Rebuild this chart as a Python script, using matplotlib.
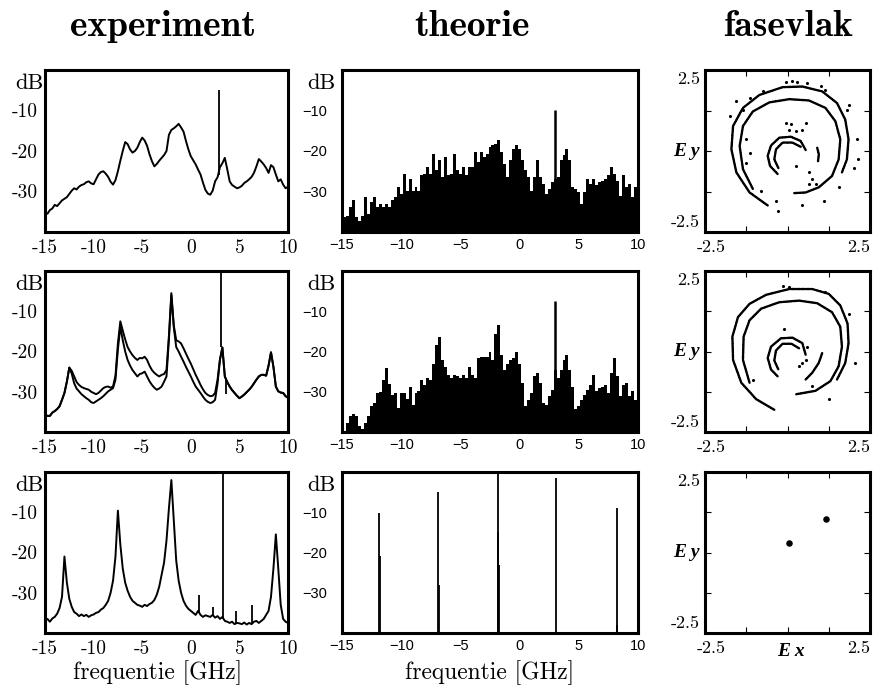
import numpy as np
import matplotlib.pyplot as plt

# ---- data (dB, 0.25 GHz steps from -15 to 10) ----
freq = np.arange(-15, 10.001, 0.25)

exp1 = [-35.0, -35.5, -34.6, -34.2,
        -33.3, -33.6, -32.9, -32.2,
        -31.8, -31.4, -30.6, -29.8,
        -29.2, -29.5, -28.8, -28.4,
        -28.2, -27.7, -27.5, -28.0,
        -28.2, -27.0, -25.8, -25.2,
        -25.0, -25.6, -26.4, -27.6,
        -28.3, -27.2, -25.0, -22.4,
        -20.0, -17.8, -18.3, -19.6,
        -20.4, -20.0, -19.2, -17.8,
        -16.7, -17.4, -18.7, -20.8,
        -22.5, -23.8, -23.2, -22.4,
        -21.7, -21.0, -20.0, -16.0,
        -14.8, -14.4, -13.9, -13.3,
        -14.2, -15.2, -17.5, -19.6,
        -21.3, -22.3, -23.3, -24.6,
        -25.8, -27.8, -29.6, -30.5,
        -30.8, -29.8, -27.5, -26.5,
        -24.0, -23.0, -21.7, -24.5,
        -27.5, -28.4, -28.8, -29.2,
        -29.0, -28.6, -27.9, -27.5,
        -27.0, -26.4, -25.4, -23.8,
        -22.0, -22.6, -23.3, -24.2,
        -25.4, -23.5, -24.0, -25.8,
        -27.5, -27.0, -28.3, -29.2,
        -28.8]

exp2_upper = [-35.7, -36.0, -36.0, -35.2,
              -34.8, -34.3, -33.6, -32.0,
              -30.3, -27.5, -24.0, -24.8,
              -26.2, -27.6, -28.3, -28.8,
              -29.1, -29.3, -29.5, -30.0,
              -30.3, -30.6, -30.3, -29.7,
              -29.1, -28.8, -28.7, -29.0,
              -28.7, -26.0, -18.0, -12.5,
              -14.8, -17.0, -18.9, -20.0,
              -20.9, -21.6, -22.1, -21.6,
              -21.7, -21.3, -22.1, -23.5,
              -24.6, -25.3, -25.8, -26.2,
              -25.8, -25.6, -24.6, -16.0,
              -5.5, -13.5, -17.2, -17.5,
              -18.0, -19.2, -20.5, -21.8,
              -23.0, -24.4, -25.8, -27.0,
              -28.3, -29.4, -30.3, -30.8,
              -31.1, -31.0, -30.3, -27.0,
              -22.0, -19.0, -26.2, -27.6,
              -28.7, -29.6, -30.3, -31.0,
              -31.6, -31.2, -30.7, -30.1,
              -29.5, -28.8, -27.9, -27.0,
              -26.2, -25.8, -25.8, -26.0,
              -23.5, -20.2, -23.8, -28.7,
              -29.9, -30.2, -30.3, -31.1,
              -31.5]

exp2_lower = [-35.7, -36.0, -36.0, -35.2,
              -34.8, -34.3, -33.6, -32.0,
              -30.3, -27.5, -24.0, -25.5,
              -27.9, -29.2, -29.9, -30.6,
              -31.1, -31.6, -32.0, -32.6,
              -32.8, -32.4, -32.0, -31.6,
              -31.1, -30.5, -29.9, -29.5,
              -29.1, -27.0, -19.5, -13.8,
              -17.2, -20.0, -22.1, -23.5,
              -24.6, -25.4, -26.2, -25.6,
              -25.4, -25.0, -26.2, -27.4,
              -28.3, -29.0, -29.5, -29.2,
              -28.7, -27.5, -26.2, -17.0,
              -6.0, -14.0, -18.9, -20.0,
              -21.3, -22.5, -23.8, -25.0,
              -26.2, -27.5, -28.7, -29.5,
              -30.3, -31.2, -32.0, -32.5,
              -32.8, -32.6, -32.0, -28.0,
              -22.0, -19.0, -26.2, -27.6,
              -28.7, -29.6, -30.3, -31.0,
              -31.6, -31.2, -30.7, -30.1,
              -29.5, -28.8, -27.9, -27.0,
              -26.2, -25.8, -25.8, -26.0,
              -23.5, -20.2, -23.8, -28.7,
              -29.9, -30.2, -30.3, -31.1,
              -31.5]

exp3 = [-37.0, -36.5, -37.2, -36.4,
        -36.0, -35.2, -33.8, -31.0,
        -21.0, -27.5, -31.5, -33.5,
        -34.8, -35.2, -35.8, -35.4,
        -35.8, -35.5, -36.0, -35.6,
        -35.4, -35.0, -34.8, -34.2,
        -33.8, -33.0, -32.0, -30.0,
        -27.0, -21.0, -9.6, -18.0,
        -24.0, -27.5, -29.5, -31.0,
        -32.0, -32.5, -33.0, -33.2,
        -33.5, -33.0, -33.3, -32.8,
        -32.5, -31.8, -30.5, -28.5,
        -25.5, -22.5, -17.0, -9.0,
        -2.0, -12.0, -22.0, -27.0,
        -30.0, -32.0, -33.2, -34.0,
        -34.5, -35.0, -35.5, -34.5,
        -35.5, -36.0, -35.6, -35.8,
        -36.0, -35.5, -36.2, -35.8,
        -36.5, -36.0, -37.0, -37.2,
        -37.5, -37.2, -37.8, -37.5,
        -37.6, -37.8, -37.4, -37.9,
        -37.5, -37.8, -37.2, -37.0,
        -37.5, -37.0, -36.5, -35.5,
        -34.5, -31.0, -24.0, -15.5,
        -24.0, -33.0, -36.5, -37.2,
        -37.5]

# narrow spikes: frequency, foot, top
exp1_spike_f, exp1_spike_lo, exp1_spike_hi = [2.95], [-26.0], [-5.0]
exp2_spike_f, exp2_spike_lo, exp2_spike_hi = [3.1, 3.6], [-19.0, -26.5], [0.0, -30.5]
exp3_spike_f = [0.8, 2.3, 3.3, 4.7, 6.3]
exp3_spike_lo = [-35.0, -35.8, -36.5, -37.5, -37.5]
exp3_spike_hi = [-30.5, -33.5, 0.0, -34.5, -33.0]

theo1 = [-39.7, -36.3, -36.0, -33.9,
         -32.2, -36.3, -37.2, -36.0,
         -31.4, -35.5, -32.6, -31.4,
         -33.9, -33.0, -33.9, -33.0,
         -33.9, -32.2, -31.4, -28.9,
         -30.6, -25.6, -29.8, -26.9,
         -29.8, -28.9, -29.8, -26.0,
         -25.6, -24.0, -25.6, -20.7,
         -24.8, -22.3, -26.4, -21.5,
         -26.0, -25.6, -20.7, -24.8,
         -25.6, -24.0, -26.0, -24.0,
         -24.0, -20.2, -22.7, -20.2,
         -21.5, -20.7, -19.0, -18.6,
         -18.2, -17.4, -20.2, -23.1,
         -26.4, -22.3, -19.4, -18.6,
         -19.4, -22.3, -24.8, -26.4,
         -29.8, -26.4, -22.3, -26.4,
         -28.1, -30.6, -29.3, -27.7,
         -27.0, -26.4, -22.3, -21.0,
         -19.4, -22.3, -28.9, -29.3,
         -30.2, -33.0, -30.2, -26.9,
         -28.1, -26.9, -28.5, -27.7,
         -27.3, -26.9, -26.0, -24.0,
         -25.6, -27.3, -31.0, -26.0,
         -28.9, -28.1, -31.4, -28.9,
         -30.0]

theo2 = [-39.8, -39.8, -37.7, -36.0,
         -35.6, -36.0, -38.5, -39.3,
         -37.7, -36.0, -33.6, -32.8,
         -30.3, -30.0, -27.0, -24.2,
         -28.0, -30.7, -30.3, -34.0,
         -30.3, -30.3, -31.9, -28.7,
         -33.2, -30.3, -29.9, -27.0,
         -28.3, -26.6, -27.0, -23.0,
         -18.4, -16.4, -22.1, -23.8,
         -25.8, -26.6, -25.8, -26.2,
         -26.6, -25.8, -26.6, -23.8,
         -25.8, -26.6, -21.7, -21.3,
         -21.3, -21.3, -20.1, -22.1,
         -15.6, -13.5, -20.9, -24.6,
         -23.0, -22.1, -21.7, -20.1,
         -23.0, -27.9, -33.6, -32.0,
         -30.3, -26.2, -25.4, -27.9,
         -32.8, -33.2, -31.1, -29.5,
         -24.6, -26.6, -24.6, -22.1,
         -20.9, -24.6, -28.7, -34.4,
         -33.6, -32.0, -30.7, -29.5,
         -28.3, -25.8, -29.9, -29.1,
         -28.7, -28.3, -30.3, -25.4,
         -21.7, -26.2, -31.1, -28.3,
         -27.9, -31.1, -29.9, -32.0,
         -32.0]

theo1_spike_f, theo1_spike_hi = [3.0], [-9.9]
theo2_spike_f, theo2_spike_hi = [3.0], [-7.4]
theo3_spike_f = [-11.85, -11.8, -6.85, -6.8, -1.85, -1.8, -1.7, 3.1, 8.2, 8.25]
theo3_spike_hi = [-10.3, -20.8, -4.9, -28.0, 0.0, -15.0, -23.0, -1.5, -8.9, -38.0]

# phase plane (Ex, Ey)
p1_outer_x = [-0.60, -1.15, -1.55, -1.70, -1.65, -1.35, -0.85, -0.15, 0.45, 1.05, 1.50, 1.75, 1.85, 1.80, 1.65]
p1_outer_y = [-1.68, -1.28, -0.66, 0.05, 0.77, 1.33, 1.73, 1.97, 1.99, 1.84, 1.48, 0.97, 0.36, -0.26, -0.66]
p1_mid_x = [-1.05, -1.35, -1.45, -1.35, -1.05, -0.55, 0.05, 0.65, 1.15, 1.45, 1.60, 1.55, 1.35, 0.95, 0.55, 0.20]
p1_mid_y = [-1.17, -0.56, 0.15, 0.77, 1.22, 1.50, 1.60, 1.56, 1.33, 0.92, 0.36, -0.26, -0.77, -1.12, -1.28, -1.30]
p1_inner_x = [0.55, 0.40, 0.10, -0.25, -0.50, -0.60, -0.53, -0.30]
p1_inner_y = [0.03, 0.31, 0.44, 0.41, 0.17, -0.15, -0.46, -0.71]
p1_core_x = [0.40, 0.15, -0.15, -0.35, -0.40, -0.27]
p1_core_y = [0.13, 0.26, 0.26, 0.05, -0.26, -0.54]
p1_hook_x = [0.90, 0.95, 0.92]
p1_hook_y = [0.10, -0.10, -0.35]
p1_dots_x = [-1.75, -1.55, -1.35, -1.15, -0.75, -0.05, 0.15, 0.30, 0.60, 1.00, 1.15, 1.85, 1.80, 2.10, 2.15, 2.00,
             1.55, 1.10, 0.45, -0.30, -0.35, -0.80, -0.05, 0.10, 0.05, 0.25, 0.45, 0.55, 0.25, 0.65, 0.75, 0.85,
             0.65, -1.25, -1.15, -1.25]
p1_dots_y = [1.07, 1.53, 1.28, 1.63, 1.84, 2.14, 2.16, 2.12, 2.09, 2.01, 1.89, 1.43, 1.28, 0.36, -0.26, -0.51,
             -1.12, -1.53, -1.68, -1.84, -1.53, -1.22, 0.87, 0.82, 0.66, 0.61, 0.66, 0.87, -0.46, -0.66, -0.87, -1.02,
             -1.02, 0.36, -0.05, -0.36]

p2_outer_x = [-0.40, -0.95, -1.40, -1.65, -1.67, -1.50, -1.15, -0.65, 0.05, 0.75, 1.25, 1.60, 1.82, 1.85, 1.75, 1.50]
p2_outer_y = [-1.81, -1.48, -0.97, -0.26, 0.46, 1.07, 1.48, 1.76, 1.94, 1.94, 1.79, 1.43, 0.87, 0.26, -0.36, -0.87]
p2_mid_x = [-1.15, -1.35, -1.33, -1.15, -0.80, -0.25, 0.35, 0.90, 1.35, 1.60, 1.65, 1.55, 1.30, 0.85, 0.25]
p2_mid_y = [-0.97, -0.26, 0.46, 0.97, 1.33, 1.53, 1.58, 1.50, 1.22, 0.77, 0.15, -0.46, -0.92, -1.22, -1.33]
p2_inner_x = [0.55, 0.45, 0.15, -0.20, -0.50, -0.60, -0.50, -0.30]
p2_inner_y = [-0.10, 0.26, 0.43, 0.41, 0.15, -0.20, -0.56, -0.77]
p2_core_x = [0.35, 0.12, -0.15, -0.35, -0.40, -0.28]
p2_core_y = [0.10, 0.24, 0.24, 0.03, -0.28, -0.55]
p2_hook_x = [1.05, 0.95, 0.75, 0.55]
p2_hook_y = [-0.05, -0.35, -0.66, -0.87]
p2_dots_x = [-0.10, 0.35, 0.45, 1.85, 2.05, 1.25, 0.75, -1.05, 0.60, 0.55, 1.15, -0.15, 0.05]
p2_dots_y = [0.71, -0.46, -0.36, 1.17, -0.36, -1.48, -1.07, -0.87, 0.15, -0.26, 1.84, 2.04, 2.01]

p3_x = [0.05, 1.17]
p3_y = [0.30, 1.05]

# ---- layout (pixels) ----
W, H = 873, 698
fig = plt.figure(figsize=(W / 100, H / 100), dpi=100)
tops = [70, 271, 472]
bots = [232, 432, 633]
cols = [(45, 288), (342, 638), (705, 870)]


def box(c, r):
    l, rr = cols[c]
    return fig.add_axes([l / W, 1 - bots[r] / H, (rr - l) / W, (bots[r] - tops[r]) / H])


SERIF = 'cmr10'
xt = [-15, -10, -5, 0, 5, 10]
yt = [-10, -20, -30]


def spectrum_axes(ax, serif):
    ax.set_xlim(-15, 10)
    ax.set_ylim(-40, 0)
    for s in ax.spines.values():
        s.set_linewidth(2.2)
    ax.set_xticks(xt)
    ax.set_yticks(yt)
    ax.tick_params(length=0)
    if serif:
        ax.set_xticklabels([str(v) for v in xt], fontfamily=SERIF, fontsize=14)
        ax.set_yticklabels([str(v) for v in yt], fontfamily=SERIF, fontsize=14)
        ax.tick_params(axis='x', pad=5)
        ax.tick_params(axis='y', pad=5)
    else:
        ax.set_xticklabels([str(v).replace('-', '\u2212') for v in xt], fontfamily='Liberation Sans', fontsize=10.5)
        ax.set_yticklabels([str(v).replace('-', '\u2212') for v in yt], fontfamily='Liberation Sans', fontsize=10.5)
        ax.tick_params(axis='x', pad=4)
        ax.tick_params(axis='y', pad=11)


# experiment column
exp_rows = [[exp1], [exp2_upper, exp2_lower], [exp3]]
exp_spikes = [(exp1_spike_f, exp1_spike_lo, exp1_spike_hi),
              (exp2_spike_f, exp2_spike_lo, exp2_spike_hi),
              (exp3_spike_f, exp3_spike_lo, exp3_spike_hi)]
for r in range(3):
    ax = box(0, r)
    for vals in exp_rows[r]:
        ax.plot(freq, vals, color='k', lw=1.4)
    f, lo, hi = exp_spikes[r]
    ax.vlines(f, lo, hi, color='k', lw=1.3)
    spectrum_axes(ax, True)
    fig.text(43 / W, 1 - (tops[r] + 13) / H, 'dB', ha='right', va='center', fontfamily=SERIF, fontsize=16)

# theory column
theo_rows = [theo1, theo2]
theo_spikes = [(theo1_spike_f, theo1_spike_hi), (theo2_spike_f, theo2_spike_hi)]
for r in range(3):
    ax = box(1, r)
    if r < 2:
        ax.fill_between(freq, theo_rows[r], -40, step='mid', color='k', lw=0)
        f, hi = theo_spikes[r]
        ax.vlines(f, -40, hi, color='k', lw=1.8)
    else:
        ax.vlines(theo3_spike_f, -40, theo3_spike_hi, color='k', lw=1.3)
    spectrum_axes(ax, False)
    fig.text(336 / W, 1 - (tops[r] + 13) / H, 'dB', ha='right', va='center', fontfamily=SERIF, fontsize=16)

# phase plane column
phase_rows = [
    ([(p1_outer_x, p1_outer_y), (p1_mid_x, p1_mid_y), (p1_inner_x, p1_inner_y),
      (p1_core_x, p1_core_y), (p1_hook_x, p1_hook_y)], (p1_dots_x, p1_dots_y)),
    ([(p2_outer_x, p2_outer_y), (p2_mid_x, p2_mid_y), (p2_inner_x, p2_inner_y),
      (p2_core_x, p2_core_y), (p2_hook_x, p2_hook_y)], (p2_dots_x, p2_dots_y)),
    ([], (p3_x, p3_y)),
]
pt = [-2.5, -1.25, 0, 1.25, 2.5]
for r in range(3):
    ax = box(2, r)
    arcs, dots = phase_rows[r]
    for xs, ys in arcs:
        ax.plot(xs, ys, color='k', lw=1.7, ls=(0, (1.6, 0.5)), dash_capstyle='round',
                dash_joinstyle='round')
    ax.scatter(dots[0], dots[1], s=5 if r < 2 else 22, color='k', lw=0)
    ax.set_xlim(-2.5, 2.5)
    ax.set_ylim(-2.5, 2.5)
    for s in ax.spines.values():
        s.set_linewidth(2.2)
    ax.set_xticks(pt)
    ax.set_yticks(pt)
    ax.set_xticklabels([])
    ax.set_yticklabels([])
    ax.tick_params(direction='in', length=4, width=0.8, top=True, right=True)
    kw = dict(fontfamily=SERIF, fontsize=13, transform=ax.transAxes)
    ax.text(-0.03, 0.99, '2.5', ha='right', va='top', **kw)
    ax.text(-0.03, 0.01, '-2.5', ha='right', va='bottom', **kw)
    ax.text(0.04, -0.05, '-2.5', ha='center', va='top', **kw)
    ax.text(1.0, -0.05, '2.5', ha='right', va='top', **kw)
    ax.text(-0.03, 0.5, 'E y', ha='right', va='center', fontfamily='Liberation Serif',
            fontweight='bold', fontstyle='italic', fontsize=14, transform=ax.transAxes)
    if r == 2:
        ax.text(0.52, -0.06, 'E x', ha='center', va='top', fontfamily='Liberation Serif',
                fontweight='bold', fontstyle='italic', fontsize=14, transform=ax.transAxes)

# titles and axis captions
for x, t in [(163, 'experiment'), (472, 'theorie'), (788, 'fasevlak')]:
    fig.text(x / W, 1 - 36 / H, t, ha='center', va='baseline', fontfamily='cmb10', fontsize=27)
for x in [158, 490]:
    fig.text(x / W, 1 - 679 / H, 'frequentie [GHz]', ha='center', va='baseline', fontfamily=SERIF, fontsize=17)

fig.savefig('out.png', dpi=100)
